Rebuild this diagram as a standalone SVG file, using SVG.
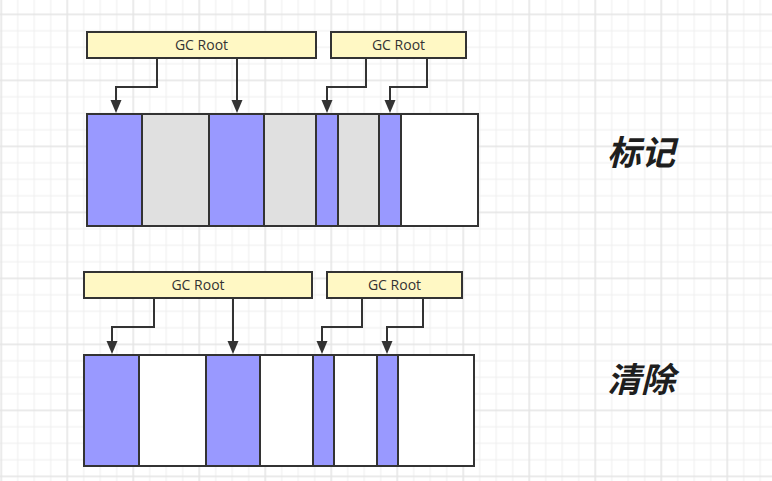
<svg xmlns="http://www.w3.org/2000/svg" width="772" height="481" viewBox="0 0 772 481">
  <defs>
    <pattern id="grid" x="0.45" y="13.55" width="66" height="66" patternUnits="userSpaceOnUse">
      <g stroke="#eeeeee" stroke-width="1">
        <line x1="17.25" y1="0" x2="17.25" y2="66"/>
        <line x1="33.75" y1="0" x2="33.75" y2="66"/>
        <line x1="50.25" y1="0" x2="50.25" y2="66"/>
        <line x1="0" y1="17.25" x2="66" y2="17.25"/>
        <line x1="0" y1="33.75" x2="66" y2="33.75"/>
        <line x1="0" y1="50.25" x2="66" y2="50.25"/>
      </g>
      <g stroke="#e4e4e4" stroke-width="1.5">
        <line x1="0.75" y1="0" x2="0.75" y2="66"/>
        <line x1="0" y1="0.75" x2="66" y2="0.75"/>
      </g>
    </pattern>
    <marker id="arr" markerUnits="userSpaceOnUse" markerWidth="14" markerHeight="12" refX="0" refY="6" orient="auto" viewBox="0 0 14 12">
      <path d="M0,0.5 L13,6 L0,11.5 z" fill="#333333"/>
    </marker>
  </defs>
  <style>
    .root { fill: #fff8c4; stroke: #333333; stroke-width: 2; }
    .rt { font-family: "Open Sans", "Noto Sans", "Liberation Sans", sans-serif; font-size: 14px; fill: #333333; text-anchor: middle; }
    .live { fill: #9999ff; stroke: #333333; stroke-width: 2; }
    .dead { fill: #e0e0e0; stroke: #333333; stroke-width: 2; }
    .free { fill: #ffffff; stroke: #333333; stroke-width: 2; }
    .conn { fill: none; stroke: #333333; stroke-width: 2; marker-end: url(#arr); }
    .big { font-family: "Noto Sans CJK SC", "Noto Sans", sans-serif; font-size: 34px; font-weight: bold; font-style: italic; fill: #1e1e1e; }
  </style>
  <rect width="772" height="481" fill="#ffffff"/>
  <rect width="772" height="481" fill="url(#grid)"/>

  <!-- Top: mark -->
  <g id="mark-root1"><rect class="root" x="87" y="32" width="229" height="26"/><text class="rt" x="201.5" y="50">GC Root</text></g>
  <g id="mark-root2"><rect class="root" x="331" y="32" width="135" height="26"/><text class="rt" x="398.5" y="50">GC Root</text></g>
  <g id="mark-heap">
    <rect class="live" x="87" y="114" width="55" height="112"/>
    <rect class="dead" x="142" y="114" width="67" height="112"/>
    <rect class="live" x="209" y="114" width="55" height="112"/>
    <rect class="dead" x="264" y="114" width="52" height="112"/>
    <rect class="live" x="316" y="114" width="22" height="112"/>
    <rect class="dead" x="338" y="114" width="41" height="112"/>
    <rect class="live" x="379" y="114" width="22" height="112"/>
    <rect class="free" x="401" y="114" width="77" height="112"/>
  </g>
  <g id="mark-label"><text class="big" x="607" y="165">标记</text></g>

  <!-- Bottom: sweep -->
  <g id="sweep-root1"><rect class="root" x="84" y="272" width="228" height="26"/><text class="rt" x="198" y="290">GC Root</text></g>
  <g id="sweep-root2"><rect class="root" x="327" y="272" width="135" height="26"/><text class="rt" x="394.5" y="290">GC Root</text></g>
  <g id="sweep-heap">
    <rect class="live" x="84" y="355" width="55" height="111"/>
    <rect class="free" x="139" y="355" width="67" height="111"/>
    <rect class="live" x="206" y="355" width="54" height="111"/>
    <rect class="free" x="260" y="355" width="53" height="111"/>
    <rect class="live" x="313" y="355" width="21" height="111"/>
    <rect class="free" x="334" y="355" width="43" height="111"/>
    <rect class="live" x="377" y="355" width="21" height="111"/>
    <rect class="free" x="398" y="355" width="76" height="111"/>
  </g>
  <g id="sweep-label"><text class="big" x="607" y="392">清除</text></g>

  <g id="connectors">
    <path class="conn" d="M157,58 V87 H116 V100"/>
    <path class="conn" d="M237,58 V100"/>
    <path class="conn" d="M366,58 V87 H327 V100"/>
    <path class="conn" d="M427,58 V87 H390 V100"/>
    <path class="conn" d="M154,298 V327 H112 V341"/>
    <path class="conn" d="M233,298 V341"/>
    <path class="conn" d="M362,298 V327 H322 V341"/>
    <path class="conn" d="M423,298 V327 H387 V341"/>
  </g>
</svg>
